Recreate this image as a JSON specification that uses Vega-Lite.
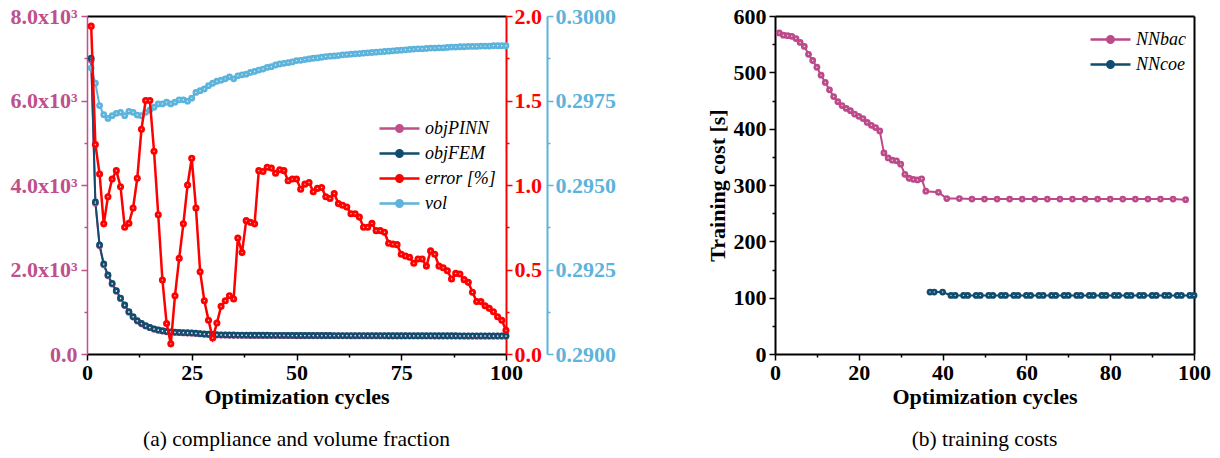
{
"$schema": "https://vega.github.io/schema/vega-lite/v6.json",
"background": "white",
"padding": {"left": 9, "top": 5, "right": 5, "bottom": 5},
"bounds": "flush",
"spacing": 269,
"config": {
  "view": {"stroke": null},
  "font": "Liberation Serif",
  "axis": {"labelFont": "Liberation Serif", "labelFontSize": 22, "labelFontWeight": "bold", "titleFont": "Liberation Serif", "titleFontSize": 22, "titleFontWeight": "bold", "grid": false, "domainWidth": 2, "tickWidth": 1.5, "labelColor": "black", "titleColor": "black", "domainColor": "black", "tickColor": "black", "labelOverlap": false, "labelFlush": false},
  "legend": {"labelFont": "Liberation Serif", "labelFontSize": 18, "labelFontStyle": "italic", "labelFontWeight": "normal", "labelColor": "black", "symbolType": "M-1,0L-0.16,0M0.16,0L1,0M-0.16,0A0.16,0.16,0,1,1,0.16,0A0.16,0.16,0,1,1,-0.16,0M-0.08,0A0.08,0.08,0,1,1,0.08,0A0.08,0.08,0,1,1,-0.08,0", "symbolSize": 1600, "symbolStrokeWidth": 2.5, "rowPadding": 2, "labelOffset": 4, "clipHeight": 23},
  "title": {"font": "Liberation Serif", "fontSize": 21.5, "fontWeight": "normal", "color": "black"}
},
"resolve": {"scale": {"color": "independent"}, "legend": {"color": "independent"}},
"hconcat": [
{
  "width": 419, "height": 338,
  "title": {"text": "(a) compliance and volume fraction", "orient": "bottom", "offset": 22},
  "data": {"values": [
{"cycle":1,"objPINN":6950,"objFEM":7000,"error":1.94,"vol":0.29846},
{"cycle":2,"objPINN":3570,"objFEM":3600,"error":1.24,"vol":0.29801},
{"cycle":3,"objPINN":2560,"objFEM":2580,"error":1.065,"vol":0.29735},
{"cycle":4,"objPINN":2110,"objFEM":2130,"error":0.77,"vol":0.29708},
{"cycle":5,"objPINN":1852,"objFEM":1870,"error":0.93,"vol":0.29697},
{"cycle":6,"objPINN":1655,"objFEM":1670,"error":1.035,"vol":0.29705},
{"cycle":7,"objPINN":1485,"objFEM":1500,"error":1.085,"vol":0.29712},
{"cycle":8,"objPINN":1310,"objFEM":1325,"error":0.99,"vol":0.29715},
{"cycle":9,"objPINN":1148,"objFEM":1160,"error":0.75,"vol":0.29705},
{"cycle":10,"objPINN":990,"objFEM":1000,"error":0.773,"vol":0.29718},
{"cycle":11,"objPINN":875,"objFEM":885,"error":0.864,"vol":0.29715},
{"cycle":12,"objPINN":780,"objFEM":790,"error":1.04,"vol":0.29707},
{"cycle":13,"objPINN":716,"objFEM":725,"error":1.33,"vol":0.29705},
{"cycle":14,"objPINN":662,"objFEM":670,"error":1.5,"vol":0.29715},
{"cycle":15,"objPINN":622,"objFEM":630,"error":1.5,"vol":0.29722},
{"cycle":16,"objPINN":587,"objFEM":595,"error":1.2,"vol":0.2973},
{"cycle":17,"objPINN":562,"objFEM":570,"error":0.824,"vol":0.2974},
{"cycle":18,"objPINN":542,"objFEM":550,"error":0.438,"vol":0.2974},
{"cycle":19,"objPINN":527,"objFEM":535,"error":0.18,"vol":0.29745},
{"cycle":20,"objPINN":517,"objFEM":525,"error":0.06,"vol":0.2974},
{"cycle":21,"objPINN":510,"objFEM":518,"error":0.345,"vol":0.29745},
{"cycle":22,"objPINN":504,"objFEM":512,"error":0.566,"vol":0.29752},
{"cycle":23,"objPINN":499,"objFEM":507,"error":0.77,"vol":0.29752},
{"cycle":24,"objPINN":495,"objFEM":503,"error":1.0,"vol":0.29748},
{"cycle":25,"objPINN":492,"objFEM":500,"error":1.158,"vol":0.29757},
{"cycle":26,"objPINN":484,"objFEM":492,"error":0.864,"vol":0.29774},
{"cycle":27,"objPINN":474,"objFEM":482,"error":0.487,"vol":0.29779},
{"cycle":28,"objPINN":467,"objFEM":475,"error":0.315,"vol":0.29784},
{"cycle":29,"objPINN":460,"objFEM":468,"error":0.2,"vol":0.29794},
{"cycle":30,"objPINN":454,"objFEM":462,"error":0.095,"vol":0.29801},
{"cycle":31,"objPINN":449,"objFEM":457,"error":0.183,"vol":0.29807},
{"cycle":32,"objPINN":447,"objFEM":455,"error":0.282,"vol":0.2981},
{"cycle":33,"objPINN":445,"objFEM":453,"error":0.315,"vol":0.29814},
{"cycle":34,"objPINN":443,"objFEM":451,"error":0.345,"vol":0.2982},
{"cycle":35,"objPINN":442,"objFEM":450,"error":0.325,"vol":0.29814},
{"cycle":36,"objPINN":441,"objFEM":449,"error":0.686,"vol":0.29823},
{"cycle":37,"objPINN":440,"objFEM":448,"error":0.6,"vol":0.29826},
{"cycle":38,"objPINN":439,"objFEM":447,"error":0.789,"vol":0.29828},
{"cycle":39,"objPINN":438,"objFEM":446,"error":0.779,"vol":0.29833},
{"cycle":40,"objPINN":437,"objFEM":445,"error":0.77,"vol":0.29836},
{"cycle":41,"objPINN":437,"objFEM":445,"error":1.085,"vol":0.2984},
{"cycle":42,"objPINN":436,"objFEM":444,"error":1.08,"vol":0.29843},
{"cycle":43,"objPINN":436,"objFEM":444,"error":1.105,"vol":0.29848},
{"cycle":44,"objPINN":435,"objFEM":443,"error":1.1,"vol":0.2985},
{"cycle":45,"objPINN":435,"objFEM":443,"error":1.07,"vol":0.29855},
{"cycle":46,"objPINN":434,"objFEM":442,"error":1.09,"vol":0.29858},
{"cycle":47,"objPINN":434,"objFEM":442,"error":1.085,"vol":0.2986},
{"cycle":48,"objPINN":433,"objFEM":441,"error":1.025,"vol":0.29862},
{"cycle":49,"objPINN":433,"objFEM":441,"error":1.035,"vol":0.29864},
{"cycle":50,"objPINN":432,"objFEM":440,"error":1.035,"vol":0.29868},
{"cycle":51,"objPINN":432,"objFEM":440,"error":0.975,"vol":0.29869},
{"cycle":52,"objPINN":432,"objFEM":440,"error":1.005,"vol":0.29871},
{"cycle":53,"objPINN":431,"objFEM":439,"error":1.015,"vol":0.29873},
{"cycle":54,"objPINN":431,"objFEM":439,"error":0.96,"vol":0.29875},
{"cycle":55,"objPINN":431,"objFEM":439,"error":0.98,"vol":0.29876},
{"cycle":56,"objPINN":430,"objFEM":438,"error":0.985,"vol":0.29878},
{"cycle":57,"objPINN":430,"objFEM":438,"error":0.93,"vol":0.2988},
{"cycle":58,"objPINN":430,"objFEM":438,"error":0.92,"vol":0.29881},
{"cycle":59,"objPINN":429,"objFEM":437,"error":0.95,"vol":0.29882},
{"cycle":60,"objPINN":429,"objFEM":437,"error":0.89,"vol":0.29883},
{"cycle":61,"objPINN":429,"objFEM":437,"error":0.88,"vol":0.29885},
{"cycle":62,"objPINN":429,"objFEM":437,"error":0.87,"vol":0.29886},
{"cycle":63,"objPINN":428,"objFEM":436,"error":0.83,"vol":0.29887},
{"cycle":64,"objPINN":428,"objFEM":436,"error":0.83,"vol":0.29888},
{"cycle":65,"objPINN":428,"objFEM":436,"error":0.81,"vol":0.29889},
{"cycle":66,"objPINN":428,"objFEM":436,"error":0.75,"vol":0.2989},
{"cycle":67,"objPINN":427,"objFEM":435,"error":0.75,"vol":0.29891},
{"cycle":68,"objPINN":427,"objFEM":435,"error":0.773,"vol":0.29892},
{"cycle":69,"objPINN":427,"objFEM":435,"error":0.73,"vol":0.29893},
{"cycle":70,"objPINN":427,"objFEM":435,"error":0.73,"vol":0.29894},
{"cycle":71,"objPINN":427,"objFEM":435,"error":0.72,"vol":0.29895},
{"cycle":72,"objPINN":426,"objFEM":434,"error":0.655,"vol":0.29896},
{"cycle":73,"objPINN":426,"objFEM":434,"error":0.65,"vol":0.29897},
{"cycle":74,"objPINN":426,"objFEM":434,"error":0.647,"vol":0.29898},
{"cycle":75,"objPINN":426,"objFEM":434,"error":0.59,"vol":0.29899},
{"cycle":76,"objPINN":426,"objFEM":434,"error":0.58,"vol":0.299},
{"cycle":77,"objPINN":425,"objFEM":433,"error":0.572,"vol":0.29901},
{"cycle":78,"objPINN":425,"objFEM":433,"error":0.537,"vol":0.29902},
{"cycle":79,"objPINN":425,"objFEM":433,"error":0.562,"vol":0.29903},
{"cycle":80,"objPINN":425,"objFEM":433,"error":0.562,"vol":0.29903},
{"cycle":81,"objPINN":425,"objFEM":433,"error":0.52,"vol":0.29904},
{"cycle":82,"objPINN":425,"objFEM":433,"error":0.61,"vol":0.29905},
{"cycle":83,"objPINN":424,"objFEM":432,"error":0.59,"vol":0.29905},
{"cycle":84,"objPINN":424,"objFEM":432,"error":0.52,"vol":0.29906},
{"cycle":85,"objPINN":424,"objFEM":432,"error":0.51,"vol":0.29906},
{"cycle":86,"objPINN":424,"objFEM":432,"error":0.493,"vol":0.29907},
{"cycle":87,"objPINN":424,"objFEM":432,"error":0.444,"vol":0.29908},
{"cycle":88,"objPINN":424,"objFEM":432,"error":0.477,"vol":0.29908},
{"cycle":89,"objPINN":423,"objFEM":431,"error":0.473,"vol":0.29909},
{"cycle":90,"objPINN":423,"objFEM":431,"error":0.44,"vol":0.29909},
{"cycle":91,"objPINN":423,"objFEM":431,"error":0.424,"vol":0.2991},
{"cycle":92,"objPINN":423,"objFEM":431,"error":0.365,"vol":0.2991},
{"cycle":93,"objPINN":423,"objFEM":431,"error":0.31,"vol":0.2991},
{"cycle":94,"objPINN":423,"objFEM":431,"error":0.31,"vol":0.29911},
{"cycle":95,"objPINN":423,"objFEM":431,"error":0.285,"vol":0.29911},
{"cycle":96,"objPINN":422,"objFEM":430,"error":0.27,"vol":0.29911},
{"cycle":97,"objPINN":422,"objFEM":430,"error":0.25,"vol":0.29912},
{"cycle":98,"objPINN":422,"objFEM":430,"error":0.22,"vol":0.29912},
{"cycle":99,"objPINN":422,"objFEM":430,"error":0.2,"vol":0.29912},
{"cycle":100,"objPINN":422,"objFEM":430,"error":0.14,"vol":0.29912}
  ]},
  "layer": [
    {
      "transform": [{"fold": ["objPINN", "objFEM"], "as": ["series", "value"]}],
      "encoding": {
        "x": {"field": "cycle", "type": "quantitative", "scale": {"domain": [0, 100], "nice": false},
              "axis": {"orient": "bottom", "title": "Optimization cycles", "titlePadding": 3, "values": [0,12.5,25,37.5,50,62.5,75,87.5,100], "labelExpr": "datum.value % 25 === 0 ? datum.label : ''", "tickSize": {"condition": {"test": "datum.value % 25 === 0", "value": 6}, "value": 3}, "labelPadding": 2}},
        "y": {"field": "value", "type": "quantitative", "scale": {"domain": [0, 8000], "nice": false},
              "axis": {"orient": "left", "title": null, "values": [0,1000,2000,3000,4000,5000,6000,7000,8000], "labelExpr": "datum.value === 0 ? '0.0' : (datum.value % 2000 === 0 ? format(datum.value / 1000, '.1f') + 'x10³' : '')", "tickSize": {"condition": {"test": "datum.value % 2000 === 0", "value": 6}, "value": 3}, "domainColor": "#c0508c", "tickColor": "#c0508c", "labelColor": "#c0508c", "domainWidth": 1.5, "labelPadding": 4}},
        "color": {"field": "series", "type": "nominal", "scale": {"domain": ["objPINN", "objFEM", "error", "vol"], "range": ["#c0508c", "#0f4c6e", "#ff0000", "#5cb3dc"]},
                  "legend": {"title": null, "orient": "none", "legendX": 291, "legendY": 101, "labelExpr": "datum.label === 'error' ? 'error [%]' : datum.label"}}
      },
      "layer": [
        {"mark": {"type": "line", "strokeWidth": 2}},
        {"mark": {"type": "circle", "size": 46, "opacity": 1}},
        {"mark": {"type": "circle", "size": 2, "opacity": 0.8}, "encoding": {"color": {"value": "white"}}}
      ]
    },
    {
      "transform": [{"fold": ["vol"], "as": ["series", "value"]}],
      "encoding": {
        "x": {"field": "cycle", "type": "quantitative", "axis": null},
        "y": {"field": "value", "type": "quantitative", "scale": {"domain": [0.29, 0.3], "nice": false, "zero": false},
              "axis": {"orient": "right", "offset": 41, "title": null, "values": [0.29,0.29125,0.2925,0.29375,0.295,0.29625,0.2975,0.29875,0.3], "labelExpr": "round(datum.value * 100000) % 250 === 0 ? format(datum.value, '.4f') : ''", "tickSize": {"condition": {"test": "round(datum.value * 100000) % 250 === 0", "value": 6}, "value": 3}, "domainColor": "#5cb3dc", "tickColor": "#5cb3dc", "labelColor": "#5cb3dc", "labelPadding": 2}},
        "color": {"field": "series", "type": "nominal"}
      },
      "layer": [
        {"mark": {"type": "line", "strokeWidth": 2}},
        {"mark": {"type": "circle", "size": 46, "opacity": 1}},
        {"mark": {"type": "circle", "size": 2, "opacity": 0.8}, "encoding": {"color": {"value": "white"}}}
      ]
    },
    {
      "transform": [{"fold": ["error"], "as": ["series", "value"]}],
      "encoding": {
        "x": {"field": "cycle", "type": "quantitative", "axis": {"orient": "top", "title": null, "labels": false, "ticks": false, "domainColor": "black", "domainWidth": 2}},
        "y": {"field": "value", "type": "quantitative", "scale": {"domain": [0, 2], "nice": false},
              "axis": {"orient": "right", "title": null, "values": [0,0.25,0.5,0.75,1,1.25,1.5,1.75,2], "labelExpr": "round(datum.value * 100) % 50 === 0 ? format(datum.value, '.1f') : ''", "tickSize": {"condition": {"test": "round(datum.value * 100) % 50 === 0", "value": 6}, "value": 3}, "domainColor": "#ff0000", "tickColor": "#ff0000", "labelColor": "#ff0000", "labelPadding": 2}},
        "color": {"field": "series", "type": "nominal"}
      },
      "layer": [
        {"mark": {"type": "line", "strokeWidth": 2.5}},
        {"mark": {"type": "circle", "size": 50, "opacity": 1}},
        {"mark": {"type": "circle", "size": 2, "opacity": 0.8}, "encoding": {"color": {"value": "white"}}}
      ]
    }
  ],
  "resolve": {"scale": {"y": "independent"}, "axis": {"x": "independent", "y": "independent"}}
},
{
  "width": 419, "height": 338,
  "title": {"text": "(b) training costs", "orient": "bottom", "offset": 22},
  "data": {"values": [
{"cycle":1,"cost":570,"series":"NNbac"},{"cycle":2,"cost":566,"series":"NNbac"},{"cycle":3,"cost":565,"series":"NNbac"},{"cycle":4,"cost":564,"series":"NNbac"},{"cycle":5,"cost":560,"series":"NNbac"},
{"cycle":6,"cost":553,"series":"NNbac"},{"cycle":7,"cost":546,"series":"NNbac"},{"cycle":8,"cost":532,"series":"NNbac"},{"cycle":9,"cost":521,"series":"NNbac"},{"cycle":10,"cost":509,"series":"NNbac"},
{"cycle":11,"cost":495,"series":"NNbac"},{"cycle":12,"cost":482,"series":"NNbac"},{"cycle":13,"cost":469,"series":"NNbac"},{"cycle":14,"cost":457,"series":"NNbac"},{"cycle":15,"cost":448,"series":"NNbac"},
{"cycle":16,"cost":441,"series":"NNbac"},{"cycle":17,"cost":436,"series":"NNbac"},{"cycle":18,"cost":432,"series":"NNbac"},{"cycle":19,"cost":426,"series":"NNbac"},{"cycle":20,"cost":422,"series":"NNbac"},
{"cycle":21,"cost":418,"series":"NNbac"},{"cycle":22,"cost":411,"series":"NNbac"},{"cycle":23,"cost":406,"series":"NNbac"},{"cycle":24,"cost":402,"series":"NNbac"},{"cycle":25,"cost":396,"series":"NNbac"},
{"cycle":26,"cost":357,"series":"NNbac"},{"cycle":27,"cost":348,"series":"NNbac"},{"cycle":28,"cost":344,"series":"NNbac"},{"cycle":29,"cost":343,"series":"NNbac"},{"cycle":30,"cost":337,"series":"NNbac"},
{"cycle":31,"cost":319,"series":"NNbac"},{"cycle":32,"cost":312,"series":"NNbac"},{"cycle":33,"cost":310,"series":"NNbac"},{"cycle":34,"cost":309,"series":"NNbac"},{"cycle":35,"cost":311,"series":"NNbac"},
{"cycle":36,"cost":289,"series":"NNbac"},{"cycle":39,"cost":287,"series":"NNbac"},{"cycle":41,"cost":276,"series":"NNbac"},{"cycle":44,"cost":276,"series":"NNbac"},{"cycle":47,"cost":275,"series":"NNbac"},
{"cycle":50,"cost":275,"series":"NNbac"},{"cycle":53,"cost":275,"series":"NNbac"},{"cycle":56,"cost":275,"series":"NNbac"},{"cycle":59,"cost":275,"series":"NNbac"},{"cycle":62,"cost":275,"series":"NNbac"},
{"cycle":65,"cost":275,"series":"NNbac"},{"cycle":68,"cost":275,"series":"NNbac"},{"cycle":71,"cost":275,"series":"NNbac"},{"cycle":74,"cost":275,"series":"NNbac"},{"cycle":77,"cost":275,"series":"NNbac"},
{"cycle":80,"cost":275,"series":"NNbac"},{"cycle":83,"cost":275,"series":"NNbac"},{"cycle":86,"cost":275,"series":"NNbac"},{"cycle":89,"cost":275,"series":"NNbac"},{"cycle":92,"cost":275,"series":"NNbac"},
{"cycle":95,"cost":275,"series":"NNbac"},{"cycle":98,"cost":274,"series":"NNbac"},
{"cycle":37,"cost":110,"series":"NNcoe"},{"cycle":38,"cost":110,"series":"NNcoe"},{"cycle":40,"cost":110,"series":"NNcoe"},
{"cycle":42,"cost":104,"series":"NNcoe"},{"cycle":43,"cost":104,"series":"NNcoe"},{"cycle":45,"cost":104,"series":"NNcoe"},{"cycle":46,"cost":104,"series":"NNcoe"},
{"cycle":48,"cost":104,"series":"NNcoe"},{"cycle":49,"cost":104,"series":"NNcoe"},{"cycle":51,"cost":104,"series":"NNcoe"},{"cycle":52,"cost":104,"series":"NNcoe"},
{"cycle":54,"cost":104,"series":"NNcoe"},{"cycle":55,"cost":104,"series":"NNcoe"},{"cycle":57,"cost":104,"series":"NNcoe"},{"cycle":58,"cost":104,"series":"NNcoe"},
{"cycle":60,"cost":104,"series":"NNcoe"},{"cycle":61,"cost":104,"series":"NNcoe"},{"cycle":63,"cost":104,"series":"NNcoe"},{"cycle":64,"cost":104,"series":"NNcoe"},
{"cycle":66,"cost":104,"series":"NNcoe"},{"cycle":67,"cost":104,"series":"NNcoe"},{"cycle":69,"cost":104,"series":"NNcoe"},{"cycle":70,"cost":104,"series":"NNcoe"},
{"cycle":72,"cost":104,"series":"NNcoe"},{"cycle":73,"cost":104,"series":"NNcoe"},{"cycle":75,"cost":104,"series":"NNcoe"},{"cycle":76,"cost":104,"series":"NNcoe"},
{"cycle":78,"cost":104,"series":"NNcoe"},{"cycle":79,"cost":104,"series":"NNcoe"},{"cycle":81,"cost":104,"series":"NNcoe"},{"cycle":82,"cost":104,"series":"NNcoe"},
{"cycle":84,"cost":104,"series":"NNcoe"},{"cycle":85,"cost":104,"series":"NNcoe"},{"cycle":87,"cost":104,"series":"NNcoe"},{"cycle":88,"cost":104,"series":"NNcoe"},
{"cycle":90,"cost":104,"series":"NNcoe"},{"cycle":91,"cost":104,"series":"NNcoe"},{"cycle":93,"cost":104,"series":"NNcoe"},{"cycle":94,"cost":104,"series":"NNcoe"},
{"cycle":96,"cost":104,"series":"NNcoe"},{"cycle":97,"cost":104,"series":"NNcoe"},{"cycle":99,"cost":104,"series":"NNcoe"},{"cycle":100,"cost":104,"series":"NNcoe"}
  ]},
  "layer": [
    {
      "transform": [{"filter": "datum.series === 'NNbac'"}],
      "encoding": {
        "x": {"field": "cycle", "type": "quantitative", "scale": {"domain": [0, 100], "nice": false},
              "axis": {"orient": "bottom", "title": "Optimization cycles", "titlePadding": 3, "values": [0,10,20,30,40,50,60,70,80,90,100], "labelExpr": "datum.value % 20 === 0 ? datum.label : ''", "tickSize": {"condition": {"test": "datum.value % 20 === 0", "value": 6}, "value": 3}, "labelPadding": 2}},
        "y": {"field": "cost", "type": "quantitative", "scale": {"domain": [0, 600], "nice": false},
              "axis": {"orient": "left", "title": "Training cost [s]", "titlePadding": 4, "values": [0,50,100,150,200,250,300,350,400,450,500,550,600], "labelExpr": "datum.value % 100 === 0 ? datum.label : ''", "tickSize": {"condition": {"test": "datum.value % 100 === 0", "value": 6}, "value": 3}, "labelPadding": 3}},
        "color": {"field": "series", "type": "nominal", "scale": {"domain": ["NNbac", "NNcoe"], "range": ["#bc4a8b", "#0f4c6e"]},
                  "legend": {"title": null, "orient": "none", "legendX": 314, "legendY": 12}}
      },
      "layer": [
        {"mark": {"type": "line", "strokeWidth": 2}},
        {"mark": {"type": "circle", "size": 46, "opacity": 1}},
        {"mark": {"type": "circle", "size": 2, "opacity": 0.8}, "encoding": {"color": {"value": "white"}}}
      ]
    },
    {
      "transform": [{"filter": "datum.series === 'NNcoe'"}],
      "encoding": {
        "x": {"field": "cycle", "type": "quantitative", "axis": {"orient": "top", "title": null, "labels": false, "ticks": false}},
        "y": {"field": "cost", "type": "quantitative", "axis": {"orient": "right", "title": null, "labels": false, "ticks": false}},
        "color": {"field": "series", "type": "nominal"}
      },
      "layer": [
        {"mark": {"type": "line", "strokeWidth": 2}},
        {"mark": {"type": "circle", "size": 46, "opacity": 1}},
        {"mark": {"type": "circle", "size": 2, "opacity": 0.8}, "encoding": {"color": {"value": "white"}}}
      ]
    }
  ],
  "resolve": {"axis": {"x": "independent", "y": "independent"}}
}
]
}
